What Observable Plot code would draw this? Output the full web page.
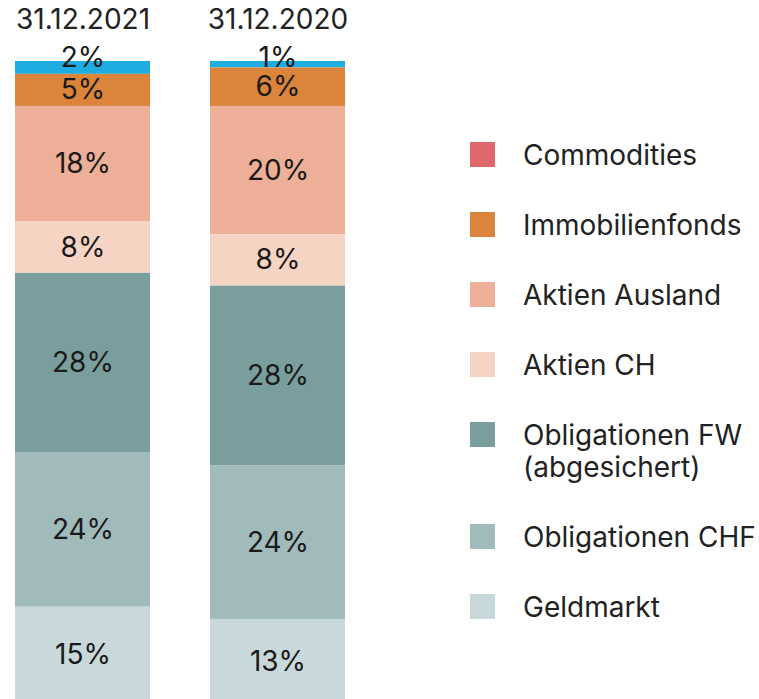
<!DOCTYPE html>
<html>
<head>
<meta charset="utf-8">
<script src="https://cdn.jsdelivr.net/npm/d3@7"></script>
<script src="https://cdn.jsdelivr.net/npm/@observablehq/plot@0.6"></script>
<style>
  html, body { margin: 0; padding: 0; background: #fff; overflow: hidden; }
  #wrap { position: relative; width: 759px; height: 699px; font-family: Inter, "Noto Sans", sans-serif; color: #222; }
  #chart { position: absolute; left: 0; top: 0; }
  #legend { position: absolute; left: 470px; top: 139px; }
  .item { display: flex; align-items: flex-start; margin-bottom: 38px; }
  .sw { width: 25px; height: 25px; margin-top: 3px; margin-right: 28px; flex: none; }
  .lbl { font-size: 28px; line-height: 32px; white-space: pre-line; }
</style>
</head>
<body>
<div id="wrap">
  <div id="chart"></div>
  <div id="legend"></div>
</div>
<script>
const dates = ["31.12.2021", "31.12.2020"];
const categories = ["Commodities", "Immobilienfonds", "Aktien Ausland", "Aktien CH", "Obligationen FW (abgesichert)", "Obligationen CHF", "Geldmarkt"];
const legendLabels = ["Commodities", "Immobilienfonds", "Aktien Ausland", "Aktien CH", "Obligationen FW\n(abgesichert)", "Obligationen CHF", "Geldmarkt"];
const values2021 = [2, 5, 18, 8, 28, 24, 15];
const values2020 = [1, 6, 20, 8, 28, 24, 13];
const barColors = ["#1eade0", "#da843c", "#edaf97", "#f6d4c4", "#7a9e9d", "#a1babb", "#c9d9db"];
const legendColors = ["#e0686c", "#da843c", "#edaf97", "#f6d4c4", "#7a9e9d", "#a1babb", "#c9d9db"];

const seriesByDate = [values2021, values2020];
const rows = [];
dates.forEach((d, i) => categories.forEach((c, j) => rows.push({date: d, category: c, value: seriesByDate[i][j]})));
const stackOrder = categories.slice().reverse();
const topCategory = categories[0];

const labelStyle = {fontSize: 28, fill: "#1a1a1a", letterSpacing: "0.5px"};

const chart = Plot.plot({
  width: 759,
  height: 710,
  marginTop: 0, marginBottom: 0, marginLeft: 0, marginRight: 0,
  style: {fontFamily: "Inter, 'Noto Sans', sans-serif", overflow: "visible"},
  x: {type: "band", domain: dates, range: [14, 346], paddingInner: 0.306, paddingOuter: 0, axis: null},
  y: {domain: [0, 100], range: [703, 61], axis: null},
  color: {domain: categories, range: barColors},
  marks: [
    Plot.barY(rows, Plot.stackY({x: "date", y: "value", fill: "category", order: stackOrder})),
    Plot.text(rows, Plot.filter(d => d.category !== topCategory, Plot.stackY({x: "date", y: "value", z: "category", order: stackOrder,
      text: d => d.value + "%", ...labelStyle}))),
    Plot.text(rows, Plot.filter(d => d.category === topCategory, Plot.stackY2({x: "date", y: "value", z: "category", order: stackOrder,
      text: d => d.value + "%", dy: -3, ...labelStyle}))),
    Plot.text(dates, {x: d => d, text: d => d, frameAnchor: "top", dy: 20, fontSize: 28, fill: "#222", lineAnchor: "middle"})
  ]
});
document.getElementById("chart").append(chart);

const legend = document.getElementById("legend");
legendLabels.forEach((l, i) => {
  const it = document.createElement("div");
  it.className = "item";
  const sw = document.createElement("div");
  sw.className = "sw";
  sw.style.background = legendColors[i];
  const tx = document.createElement("div");
  tx.className = "lbl";
  tx.textContent = l;
  it.append(sw, tx);
  legend.append(it);
});
</script>
</body>
</html>
